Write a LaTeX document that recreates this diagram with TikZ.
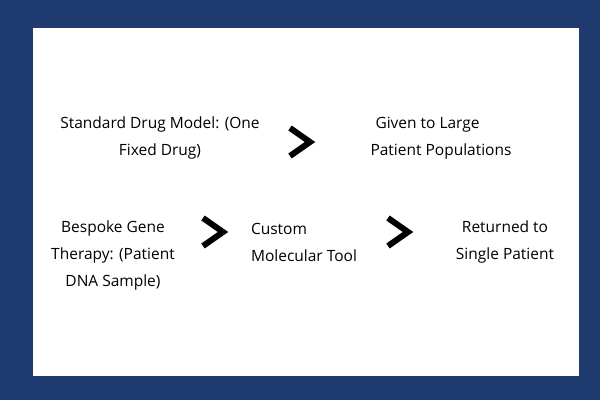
\documentclass[tikz,border=0pt]{standalone}
\usepackage{fontspec}
\setmainfont{Open Sans}
\definecolor{navy}{HTML}{1F3A6E}
\begin{document}
\begin{tikzpicture}[x=1pt,y=-1pt,
  txt/.style={font=\fontsize{15.5}{27}\selectfont, text=black, inner sep=0pt},
  chev/.style={line width=6pt, line cap=butt, line join=miter}]
\fill[navy] (0,0) rectangle (600,400);
\fill[white] (33,28) rectangle (579,376);
\node[txt, align=center] (a) at (160,138) {Standard Drug Model: (One\\Fixed Drug)};
\node[txt, align=left] (b) at (441,138) {\hspace*{5pt}Given to Large\\Patient Populations};
\node[txt, align=center] (c) at (113,255) {Bespoke Gene\\Therapy: (Patient\\DNA Sample)};
\node[txt, align=left] (d) at (304,242) {Custom\\Molecular Tool};
\node[txt, align=center] (e) at (505,242) {Returned to\\Single Patient};
\coordinate (k1) at (300,142);
\coordinate (k2) at (213,232);
\coordinate (k3) at (398,232);
\foreach \k in {k1,k2,k3}
  \draw[chev] ([shift={(-10,-14)}]\k) -- ([shift={(10,0)}]\k) -- ([shift={(-10,14)}]\k);
\end{tikzpicture}
\end{document}
